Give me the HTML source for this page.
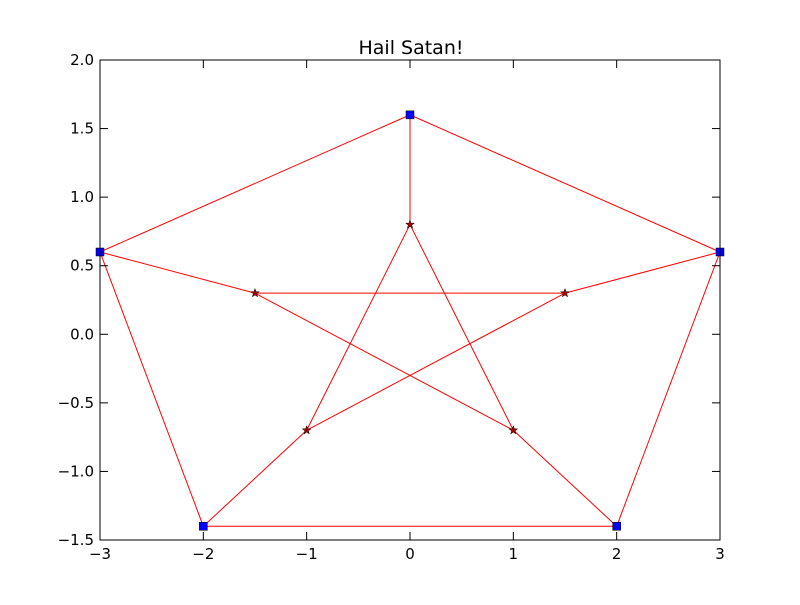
<!DOCTYPE html>
<html><head><meta charset="utf-8"><style>
html,body{margin:0;padding:0;background:#fff;}
svg text{font-family:"DejaVu Sans","Liberation Sans",sans-serif;}
</style></head><body>
<svg id="chart" width="800" height="600" xmlns="http://www.w3.org/2000/svg">
<rect width="800" height="600" fill="#fff"/>
<g id="edges"></g>
<g id="nodes"></g>
<rect x="100" y="60" width="620" height="480" fill="none" stroke="#000" stroke-width="1"/>
<g id="ticks"></g>
<text x="411" y="54" text-anchor="middle" font-size="19">Hail Satan!</text>
</svg>
<script>
const outerX = [0, 3, 2, -2, -3];
const outerY = [1.6, 0.6, -1.4, -1.4, 0.6];
const innerX = [0, 1.5, 1, -1, -1.5];
const innerY = [0.8, 0.3, -0.7, -0.7, 0.3];
const xTicks = [-3, -2, -1, 0, 1, 2, 3];
const xTickLabels = ["\u22123", "\u22122", "\u22121", "0", "1", "2", "3"];
const yTicks = [-1.5, -1.0, -0.5, 0.0, 0.5, 1.0, 1.5, 2.0];
const yTickLabels = ["\u22121.5", "\u22121.0", "\u22120.5", "0.0", "0.5", "1.0", "1.5", "2.0"];
const edgeList = [
 ["o",0,"o",1],["o",1,"o",2],["o",2,"o",3],["o",3,"o",4],["o",4,"o",0],
 ["o",0,"i",0],["o",1,"i",1],["o",2,"i",2],["o",3,"i",3],["o",4,"i",4],
 ["i",0,"i",2],["i",0,"i",3],["i",1,"i",4],["i",1,"i",3],["i",4,"i",2]
];
const NS="http://www.w3.org/2000/svg";
const sx=v=>100+(v+3)/6*620;
const sy=v=>540-(v+1.5)/3.5*480;
function pt(s,i){return s==="o"?[outerX[i],outerY[i]]:[innerX[i],innerY[i]];}
const eg=document.getElementById('edges');
edgeList.forEach((e,k)=>{
 const a=pt(e[0],e[1]),b=pt(e[2],e[3]);
 const l=document.createElementNS(NS,'line');
 l.setAttribute('x1',sx(a[0]));l.setAttribute('y1',sy(a[1]));
 l.setAttribute('x2',sx(b[0]));l.setAttribute('y2',sy(b[1]));
 l.setAttribute('stroke','#ff0000');l.setAttribute('stroke-width','1');
 
 
 eg.appendChild(l);
});
const ng=document.getElementById('nodes');
outerX.forEach((x,i)=>{
 const r=document.createElementNS(NS,'rect');
 r.setAttribute('x',sx(x)-4);r.setAttribute('y',sy(outerY[i])-4);
 r.setAttribute('width',8);r.setAttribute('height',8);
 r.setAttribute('fill','#0000ff');r.setAttribute('stroke','#000');r.setAttribute('stroke-width','0.5');
 
 
 ng.appendChild(r);
});
function star(cx,cy,R){let p=[];for(let k=0;k<10;k++){const rr=k%2?R*0.4:R;const a=-Math.PI/2+k*Math.PI/5;p.push((cx+rr*Math.cos(a)).toFixed(2)+','+(cy+rr*Math.sin(a)).toFixed(2));}return p.join(' ');}
innerX.forEach((x,i)=>{
 const s=document.createElementNS(NS,'polygon');
 s.setAttribute('points',star(sx(x),sy(innerY[i]),4.5));
 s.setAttribute('fill','#aa0000');s.setAttribute('stroke','#000');s.setAttribute('stroke-width','0.5');
 
 
 ng.appendChild(s);
});
const tg=document.getElementById('ticks');
function ln(x1,y1,x2,y2){const l=document.createElementNS(NS,'line');l.setAttribute('x1',x1);l.setAttribute('y1',y1);l.setAttribute('x2',x2);l.setAttribute('y2',y2);l.setAttribute('stroke','#000');
 
 
 tg.appendChild(l);}
function tx(x,y,s,anc){const t=document.createElementNS(NS,'text');t.setAttribute('x',x);t.setAttribute('y',y);t.setAttribute('text-anchor',anc);t.setAttribute('font-size','15');t.textContent=s;
 
 
 tg.appendChild(t);}
xTicks.forEach((v,i)=>{const x=sx(v);ln(x,540,x,532);ln(x,60,x,68);tx(x,559,xTickLabels[i],'middle');});
yTicks.forEach((v,i)=>{const y=sy(v);ln(100,y,108,y);ln(720,y,712,y);tx(94,y+5,yTickLabels[i],'end');});
</script>
</body></html>
